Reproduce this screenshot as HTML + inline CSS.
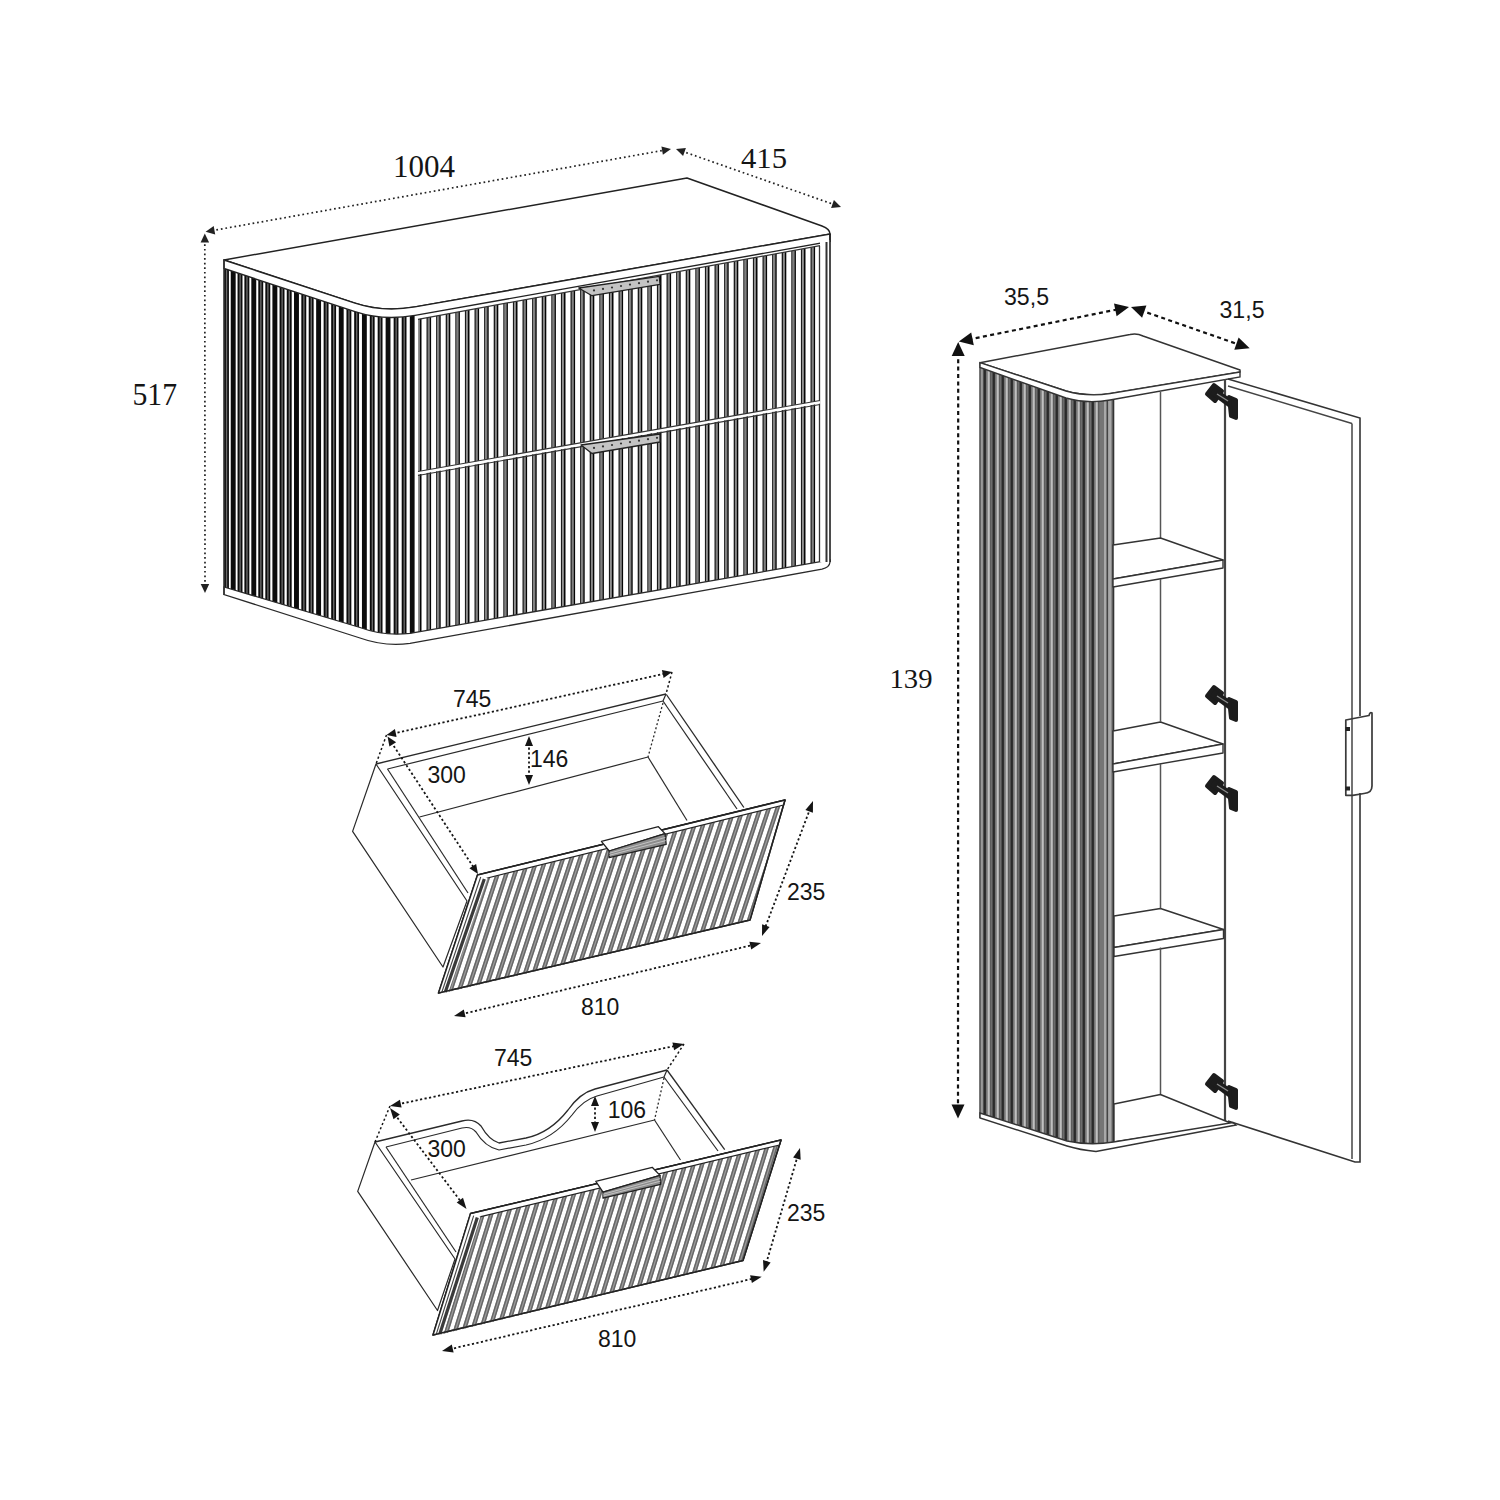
<!DOCTYPE html><html><head><meta charset="utf-8"><style>html,body{margin:0;padding:0;background:#fff}svg{display:block}</style></head><body><svg width="1500" height="1500" viewBox="0 0 1500 1500"><rect width="1500" height="1500" fill="#fff"/>
<clipPath id="cl1"><path d="M224,268.5 L355,311.7 Q383,321 415,315.4 L418,315 L418,634 L410,635 Q384,638 360,629 L224,588 Z"/></clipPath>
<g clip-path="url(#cl1)">
<rect x="224.00" y="250" width="4.92" height="420" fill="#0c0c0c"/>
<rect x="225.87" y="250" width="1.38" height="420" fill="#6a6a6a"/>
<rect x="230.74" y="250" width="4.93" height="420" fill="#0c0c0c"/>
<rect x="237.55" y="250" width="4.93" height="420" fill="#0c0c0c"/>
<rect x="239.42" y="250" width="1.38" height="420" fill="#6a6a6a"/>
<rect x="244.40" y="250" width="4.93" height="420" fill="#0c0c0c"/>
<rect x="246.28" y="250" width="1.38" height="420" fill="#6a6a6a"/>
<rect x="251.32" y="250" width="4.93" height="420" fill="#0c0c0c"/>
<rect x="258.29" y="250" width="4.93" height="420" fill="#0c0c0c"/>
<rect x="260.17" y="250" width="1.38" height="420" fill="#6a6a6a"/>
<rect x="265.33" y="250" width="4.93" height="420" fill="#0c0c0c"/>
<rect x="267.20" y="250" width="1.38" height="420" fill="#6a6a6a"/>
<rect x="272.41" y="250" width="4.93" height="420" fill="#0c0c0c"/>
<rect x="279.56" y="250" width="4.93" height="420" fill="#0c0c0c"/>
<rect x="281.43" y="250" width="1.38" height="420" fill="#6a6a6a"/>
<rect x="286.76" y="250" width="4.92" height="420" fill="#0c0c0c"/>
<rect x="288.63" y="250" width="1.38" height="420" fill="#6a6a6a"/>
<rect x="294.02" y="250" width="4.92" height="420" fill="#0c0c0c"/>
<rect x="301.34" y="250" width="4.92" height="420" fill="#0c0c0c"/>
<rect x="303.21" y="250" width="1.38" height="420" fill="#6a6a6a"/>
<rect x="308.72" y="250" width="4.91" height="420" fill="#0c0c0c"/>
<rect x="310.58" y="250" width="1.38" height="420" fill="#6a6a6a"/>
<rect x="316.15" y="250" width="4.91" height="420" fill="#0c0c0c"/>
<rect x="323.64" y="250" width="4.90" height="420" fill="#0c0c0c"/>
<rect x="325.50" y="250" width="1.37" height="420" fill="#6a6a6a"/>
<rect x="331.19" y="250" width="4.89" height="420" fill="#0c0c0c"/>
<rect x="333.05" y="250" width="1.37" height="420" fill="#6a6a6a"/>
<rect x="338.79" y="250" width="4.89" height="420" fill="#0c0c0c"/>
<rect x="346.46" y="250" width="4.88" height="420" fill="#0c0c0c"/>
<rect x="348.31" y="250" width="1.37" height="420" fill="#6a6a6a"/>
<rect x="354.18" y="250" width="4.87" height="420" fill="#0c0c0c"/>
<rect x="356.03" y="250" width="1.36" height="420" fill="#6a6a6a"/>
<rect x="361.95" y="250" width="4.86" height="420" fill="#0c0c0c"/>
<rect x="369.79" y="250" width="4.85" height="420" fill="#0c0c0c"/>
<rect x="371.63" y="250" width="1.36" height="420" fill="#6a6a6a"/>
<rect x="377.68" y="250" width="4.84" height="420" fill="#0c0c0c"/>
<rect x="379.52" y="250" width="1.36" height="420" fill="#6a6a6a"/>
<rect x="385.63" y="250" width="4.83" height="420" fill="#0c0c0c"/>
<rect x="393.64" y="250" width="4.82" height="420" fill="#0c0c0c"/>
<rect x="395.47" y="250" width="1.35" height="420" fill="#6a6a6a"/>
<rect x="401.70" y="250" width="4.80" height="420" fill="#0c0c0c"/>
<rect x="403.53" y="250" width="1.35" height="420" fill="#6a6a6a"/>
<rect x="409.82" y="250" width="4.79" height="420" fill="#0c0c0c"/>
</g>
<clipPath id="cl2"><polygon points="418,319.3 820,245.7 820,562 418,634"/></clipPath>
<g clip-path="url(#cl2)">
<rect x="416.90" y="230" width="1.4" height="420" fill="#1a1a1a"/>
<rect x="418.30" y="230" width="1.7" height="420" fill="#808080"/>
<rect x="420.00" y="230" width="1.5" height="420" fill="#050505"/>
<rect x="426.50" y="230" width="1.4" height="420" fill="#1a1a1a"/>
<rect x="427.90" y="230" width="1.7" height="420" fill="#808080"/>
<rect x="429.60" y="230" width="1.5" height="420" fill="#050505"/>
<rect x="436.10" y="230" width="1.4" height="420" fill="#1a1a1a"/>
<rect x="437.50" y="230" width="1.7" height="420" fill="#808080"/>
<rect x="439.20" y="230" width="1.5" height="420" fill="#050505"/>
<rect x="445.70" y="230" width="1.4" height="420" fill="#1a1a1a"/>
<rect x="447.10" y="230" width="1.7" height="420" fill="#808080"/>
<rect x="448.80" y="230" width="1.5" height="420" fill="#050505"/>
<rect x="455.30" y="230" width="1.4" height="420" fill="#1a1a1a"/>
<rect x="456.70" y="230" width="1.7" height="420" fill="#808080"/>
<rect x="458.40" y="230" width="1.5" height="420" fill="#050505"/>
<rect x="464.90" y="230" width="1.4" height="420" fill="#1a1a1a"/>
<rect x="466.30" y="230" width="1.7" height="420" fill="#808080"/>
<rect x="468.00" y="230" width="1.5" height="420" fill="#050505"/>
<rect x="474.50" y="230" width="1.4" height="420" fill="#1a1a1a"/>
<rect x="475.90" y="230" width="1.7" height="420" fill="#808080"/>
<rect x="477.60" y="230" width="1.5" height="420" fill="#050505"/>
<rect x="484.10" y="230" width="1.4" height="420" fill="#1a1a1a"/>
<rect x="485.50" y="230" width="1.7" height="420" fill="#808080"/>
<rect x="487.20" y="230" width="1.5" height="420" fill="#050505"/>
<rect x="493.70" y="230" width="1.4" height="420" fill="#1a1a1a"/>
<rect x="495.10" y="230" width="1.7" height="420" fill="#808080"/>
<rect x="496.80" y="230" width="1.5" height="420" fill="#050505"/>
<rect x="503.30" y="230" width="1.4" height="420" fill="#1a1a1a"/>
<rect x="504.70" y="230" width="1.7" height="420" fill="#808080"/>
<rect x="506.40" y="230" width="1.5" height="420" fill="#050505"/>
<rect x="512.90" y="230" width="1.4" height="420" fill="#1a1a1a"/>
<rect x="514.30" y="230" width="1.7" height="420" fill="#808080"/>
<rect x="516.00" y="230" width="1.5" height="420" fill="#050505"/>
<rect x="522.50" y="230" width="1.4" height="420" fill="#1a1a1a"/>
<rect x="523.90" y="230" width="1.7" height="420" fill="#808080"/>
<rect x="525.60" y="230" width="1.5" height="420" fill="#050505"/>
<rect x="532.10" y="230" width="1.4" height="420" fill="#1a1a1a"/>
<rect x="533.50" y="230" width="1.7" height="420" fill="#808080"/>
<rect x="535.20" y="230" width="1.5" height="420" fill="#050505"/>
<rect x="541.70" y="230" width="1.4" height="420" fill="#1a1a1a"/>
<rect x="543.10" y="230" width="1.7" height="420" fill="#808080"/>
<rect x="544.80" y="230" width="1.5" height="420" fill="#050505"/>
<rect x="551.30" y="230" width="1.4" height="420" fill="#1a1a1a"/>
<rect x="552.70" y="230" width="1.7" height="420" fill="#808080"/>
<rect x="554.40" y="230" width="1.5" height="420" fill="#050505"/>
<rect x="560.90" y="230" width="1.4" height="420" fill="#1a1a1a"/>
<rect x="562.30" y="230" width="1.7" height="420" fill="#808080"/>
<rect x="564.00" y="230" width="1.5" height="420" fill="#050505"/>
<rect x="570.50" y="230" width="1.4" height="420" fill="#1a1a1a"/>
<rect x="571.90" y="230" width="1.7" height="420" fill="#808080"/>
<rect x="573.60" y="230" width="1.5" height="420" fill="#050505"/>
<rect x="580.10" y="230" width="1.4" height="420" fill="#1a1a1a"/>
<rect x="581.50" y="230" width="1.7" height="420" fill="#808080"/>
<rect x="583.20" y="230" width="1.5" height="420" fill="#050505"/>
<rect x="589.70" y="230" width="1.4" height="420" fill="#1a1a1a"/>
<rect x="591.10" y="230" width="1.7" height="420" fill="#808080"/>
<rect x="592.80" y="230" width="1.5" height="420" fill="#050505"/>
<rect x="599.30" y="230" width="1.4" height="420" fill="#1a1a1a"/>
<rect x="600.70" y="230" width="1.7" height="420" fill="#808080"/>
<rect x="602.40" y="230" width="1.5" height="420" fill="#050505"/>
<rect x="608.90" y="230" width="1.4" height="420" fill="#1a1a1a"/>
<rect x="610.30" y="230" width="1.7" height="420" fill="#808080"/>
<rect x="612.00" y="230" width="1.5" height="420" fill="#050505"/>
<rect x="618.50" y="230" width="1.4" height="420" fill="#1a1a1a"/>
<rect x="619.90" y="230" width="1.7" height="420" fill="#808080"/>
<rect x="621.60" y="230" width="1.5" height="420" fill="#050505"/>
<rect x="628.10" y="230" width="1.4" height="420" fill="#1a1a1a"/>
<rect x="629.50" y="230" width="1.7" height="420" fill="#808080"/>
<rect x="631.20" y="230" width="1.5" height="420" fill="#050505"/>
<rect x="637.70" y="230" width="1.4" height="420" fill="#1a1a1a"/>
<rect x="639.10" y="230" width="1.7" height="420" fill="#808080"/>
<rect x="640.80" y="230" width="1.5" height="420" fill="#050505"/>
<rect x="647.30" y="230" width="1.4" height="420" fill="#1a1a1a"/>
<rect x="648.70" y="230" width="1.7" height="420" fill="#808080"/>
<rect x="650.40" y="230" width="1.5" height="420" fill="#050505"/>
<rect x="656.90" y="230" width="1.4" height="420" fill="#1a1a1a"/>
<rect x="658.30" y="230" width="1.7" height="420" fill="#808080"/>
<rect x="660.00" y="230" width="1.5" height="420" fill="#050505"/>
<rect x="666.50" y="230" width="1.4" height="420" fill="#1a1a1a"/>
<rect x="667.90" y="230" width="1.7" height="420" fill="#808080"/>
<rect x="669.60" y="230" width="1.5" height="420" fill="#050505"/>
<rect x="676.10" y="230" width="1.4" height="420" fill="#1a1a1a"/>
<rect x="677.50" y="230" width="1.7" height="420" fill="#808080"/>
<rect x="679.20" y="230" width="1.5" height="420" fill="#050505"/>
<rect x="685.70" y="230" width="1.4" height="420" fill="#1a1a1a"/>
<rect x="687.10" y="230" width="1.7" height="420" fill="#808080"/>
<rect x="688.80" y="230" width="1.5" height="420" fill="#050505"/>
<rect x="695.30" y="230" width="1.4" height="420" fill="#1a1a1a"/>
<rect x="696.70" y="230" width="1.7" height="420" fill="#808080"/>
<rect x="698.40" y="230" width="1.5" height="420" fill="#050505"/>
<rect x="704.90" y="230" width="1.4" height="420" fill="#1a1a1a"/>
<rect x="706.30" y="230" width="1.7" height="420" fill="#808080"/>
<rect x="708.00" y="230" width="1.5" height="420" fill="#050505"/>
<rect x="714.50" y="230" width="1.4" height="420" fill="#1a1a1a"/>
<rect x="715.90" y="230" width="1.7" height="420" fill="#808080"/>
<rect x="717.60" y="230" width="1.5" height="420" fill="#050505"/>
<rect x="724.10" y="230" width="1.4" height="420" fill="#1a1a1a"/>
<rect x="725.50" y="230" width="1.7" height="420" fill="#808080"/>
<rect x="727.20" y="230" width="1.5" height="420" fill="#050505"/>
<rect x="733.70" y="230" width="1.4" height="420" fill="#1a1a1a"/>
<rect x="735.10" y="230" width="1.7" height="420" fill="#808080"/>
<rect x="736.80" y="230" width="1.5" height="420" fill="#050505"/>
<rect x="743.30" y="230" width="1.4" height="420" fill="#1a1a1a"/>
<rect x="744.70" y="230" width="1.7" height="420" fill="#808080"/>
<rect x="746.40" y="230" width="1.5" height="420" fill="#050505"/>
<rect x="752.90" y="230" width="1.4" height="420" fill="#1a1a1a"/>
<rect x="754.30" y="230" width="1.7" height="420" fill="#808080"/>
<rect x="756.00" y="230" width="1.5" height="420" fill="#050505"/>
<rect x="762.50" y="230" width="1.4" height="420" fill="#1a1a1a"/>
<rect x="763.90" y="230" width="1.7" height="420" fill="#808080"/>
<rect x="765.60" y="230" width="1.5" height="420" fill="#050505"/>
<rect x="772.10" y="230" width="1.4" height="420" fill="#1a1a1a"/>
<rect x="773.50" y="230" width="1.7" height="420" fill="#808080"/>
<rect x="775.20" y="230" width="1.5" height="420" fill="#050505"/>
<rect x="781.70" y="230" width="1.4" height="420" fill="#1a1a1a"/>
<rect x="783.10" y="230" width="1.7" height="420" fill="#808080"/>
<rect x="784.80" y="230" width="1.5" height="420" fill="#050505"/>
<rect x="791.30" y="230" width="1.4" height="420" fill="#1a1a1a"/>
<rect x="792.70" y="230" width="1.7" height="420" fill="#808080"/>
<rect x="794.40" y="230" width="1.5" height="420" fill="#050505"/>
<rect x="800.90" y="230" width="1.4" height="420" fill="#1a1a1a"/>
<rect x="802.30" y="230" width="1.7" height="420" fill="#808080"/>
<rect x="804.00" y="230" width="1.5" height="420" fill="#050505"/>
<rect x="810.50" y="230" width="1.4" height="420" fill="#1a1a1a"/>
<rect x="811.90" y="230" width="1.7" height="420" fill="#808080"/>
<rect x="813.60" y="230" width="1.5" height="420" fill="#050505"/>
<rect x="820.10" y="230" width="1.4" height="420" fill="#1a1a1a"/>
<rect x="821.50" y="230" width="1.7" height="420" fill="#808080"/>
<rect x="823.20" y="230" width="1.5" height="420" fill="#050505"/>
</g>
<path d="M224,260 L687,178 L822,226 Q830,229 830,234 L415,306.9 Q383,312.5 355,303.2 Z" fill="#fff" stroke="#222" stroke-width="1.5" stroke-linejoin="round"/>
<path d="M224,260 L355,303.2 Q383,312.5 415,306.9 L830,234 L830,241.5 L415,315.4 Q383,321 355,311.7 L224,268.5 Z" fill="#fff" stroke="#222" stroke-width="1.4"/>
<path d="M224,587 L360,627.5 Q384,636.5 410,633.4 L829,560.2 L830,560 L830,562 Q829.5,567.5 822,569.2 L410,643.4 Q385,647 360,638 L224,594.5 Z" fill="#fff" stroke="#2a2a2a" stroke-width="1.3"/>
<line x1="224.0" y1="260.0" x2="224.0" y2="595.0" stroke="#333" stroke-width="1.6" />
<rect x="820" y="240" width="10" height="322" fill="#fff"/>
<line x1="830.0" y1="234.0" x2="830.0" y2="562.0" stroke="#1e1e1e" stroke-width="1.6" />
<line x1="826.5" y1="242.0" x2="826.5" y2="562.0" stroke="#333" stroke-width="2.0" />
<line x1="819.5" y1="246.0" x2="819.5" y2="562.0" stroke="#333" stroke-width="1.3" />
<line x1="418.0" y1="473.0" x2="820.0" y2="402.0" stroke="#fff" stroke-width="3.2" />
<line x1="418.0" y1="471.5" x2="820.0" y2="400.5" stroke="#333" stroke-width="1.1" />
<line x1="418.0" y1="475.5" x2="820.0" y2="404.5" stroke="#333" stroke-width="1.1" />
<line x1="418.0" y1="319.3" x2="820.0" y2="245.7" stroke="#333" stroke-width="1.2" />
<polygon points="578.7,288.0 659.3,276.3 660.0,284.3 592.0,295.7" fill="#c4c4c4" stroke="#222" stroke-width="1.3" stroke-linejoin="round" />
<circle cx="594" cy="290.4" r="1.1" fill="#333"/>
<circle cx="603" cy="288.9" r="1.1" fill="#333"/>
<circle cx="612" cy="287.5" r="1.1" fill="#333"/>
<circle cx="621" cy="286.0" r="1.1" fill="#333"/>
<circle cx="630" cy="284.6" r="1.1" fill="#333"/>
<circle cx="639" cy="283.2" r="1.1" fill="#333"/>
<circle cx="648" cy="281.7" r="1.1" fill="#333"/>
<circle cx="657" cy="280.3" r="1.1" fill="#333"/>
<polygon points="581.0,445.0 660.0,434.0 660.0,442.0 592.0,453.5" fill="#c4c4c4" stroke="#222" stroke-width="1.3" stroke-linejoin="round" />
<circle cx="594" cy="447.9" r="1.1" fill="#333"/>
<circle cx="603" cy="446.4" r="1.1" fill="#333"/>
<circle cx="612" cy="445.0" r="1.1" fill="#333"/>
<circle cx="621" cy="443.5" r="1.1" fill="#333"/>
<circle cx="630" cy="442.1" r="1.1" fill="#333"/>
<circle cx="639" cy="440.7" r="1.1" fill="#333"/>
<circle cx="648" cy="439.2" r="1.1" fill="#333"/>
<circle cx="657" cy="437.8" r="1.1" fill="#333"/>
<line x1="211.8" y1="230.7" x2="664.8" y2="150.1" stroke="#222" stroke-width="1.7" stroke-dasharray="1.7 2.9"/>
<polygon points="205.6,231.8 213.7,226.0 215.2,234.4" fill="#222"/>
<polygon points="671.0,149.0 662.9,154.8 661.4,146.4" fill="#222"/>
<line x1="681.9" y1="151.1" x2="835.1" y2="204.9" stroke="#222" stroke-width="1.7" stroke-dasharray="1.7 2.9"/>
<polygon points="676.0,149.0 685.9,148.0 683.1,156.0" fill="#222"/>
<polygon points="841.0,207.0 831.1,208.0 833.9,200.0" fill="#222"/>
<line x1="204.8" y1="239.7" x2="205.0" y2="586.7" stroke="#222" stroke-width="1.7" stroke-dasharray="1.7 2.9"/>
<polygon points="204.8,233.4 209.1,242.4 200.6,242.4" fill="#222"/>
<polygon points="205.0,593.0 200.7,584.0 209.2,584.0" fill="#222"/>
<text x="393" y="177" font-family='"Liberation Serif", serif' font-size="32" fill="#151515" text-anchor="start" textLength="62" lengthAdjust="spacingAndGlyphs">1004</text>
<text x="741" y="168" font-family='"Liberation Serif", serif' font-size="30" fill="#151515" text-anchor="start" textLength="46" lengthAdjust="spacingAndGlyphs">415</text>
<text x="132.5" y="404.8" font-family='"Liberation Serif", serif' font-size="31" fill="#151515" text-anchor="start" textLength="44.5" lengthAdjust="spacingAndGlyphs">517</text>
<!--D1-->
<polygon points="376.0,764.0 352.6,831.4 443.0,967.0 467.0,901.0" fill="#fff" stroke="#2a2a2a" stroke-width="1.2" stroke-linejoin="round" />
<line x1="387.5" y1="769.0" x2="468.0" y2="893.0" stroke="#2a2a2a" stroke-width="1.2" />
<line x1="376.0" y1="764.0" x2="666.0" y2="694.0" stroke="#2a2a2a" stroke-width="1.3" />
<line x1="387.5" y1="769.0" x2="663.0" y2="701.0" stroke="#2a2a2a" stroke-width="1.2" />
<line x1="666.4" y1="694.5" x2="743.9" y2="807.5" stroke="#2a2a2a" stroke-width="1.3" />
<line x1="663.0" y1="701.0" x2="737.0" y2="809.0" stroke="#2a2a2a" stroke-width="1.2" />
<line x1="666.0" y1="694.0" x2="663.0" y2="701.0" stroke="#2a2a2a" stroke-width="1.2" />
<line x1="663.0" y1="703.0" x2="648.0" y2="757.0" stroke="#2a2a2a" stroke-width="1.3" stroke-dasharray="2 2.2"/>
<line x1="648.0" y1="757.0" x2="419.5" y2="817.0" stroke="#2a2a2a" stroke-width="1.2" />
<line x1="648.0" y1="757.0" x2="687.0" y2="820.5" stroke="#2a2a2a" stroke-width="1.2" />
<polygon points="477.5,875.0 785.0,800.0 750.0,920.0 438.5,993.0" fill="#fff" stroke="#222" stroke-width="1.5" stroke-linejoin="round" />
<clipPath id="d1"><polygon points="480.5,880.0 784.0,805.0 750.0,920.0 443.5,993.0"/></clipPath>
<g clip-path="url(#d1)">
<line x1="396.50" y1="998" x2="463.59" y2="795" stroke="#9c9c9c" stroke-width="4.20"/>
<line x1="395.10" y1="998" x2="462.19" y2="795" stroke="#666666" stroke-width="1.4"/>
<line x1="397.90" y1="998" x2="464.99" y2="795" stroke="#666666" stroke-width="1.4"/>
<line x1="405.10" y1="998" x2="472.19" y2="795" stroke="#9c9c9c" stroke-width="4.20"/>
<line x1="403.70" y1="998" x2="470.79" y2="795" stroke="#666666" stroke-width="1.4"/>
<line x1="406.50" y1="998" x2="473.59" y2="795" stroke="#666666" stroke-width="1.4"/>
<line x1="413.70" y1="998" x2="480.79" y2="795" stroke="#9c9c9c" stroke-width="4.20"/>
<line x1="412.30" y1="998" x2="479.39" y2="795" stroke="#666666" stroke-width="1.4"/>
<line x1="415.10" y1="998" x2="482.19" y2="795" stroke="#666666" stroke-width="1.4"/>
<line x1="422.30" y1="998" x2="489.39" y2="795" stroke="#9c9c9c" stroke-width="4.20"/>
<line x1="420.90" y1="998" x2="487.99" y2="795" stroke="#666666" stroke-width="1.4"/>
<line x1="423.70" y1="998" x2="490.79" y2="795" stroke="#666666" stroke-width="1.4"/>
<line x1="430.90" y1="998" x2="497.99" y2="795" stroke="#9c9c9c" stroke-width="4.20"/>
<line x1="429.50" y1="998" x2="496.59" y2="795" stroke="#666666" stroke-width="1.4"/>
<line x1="432.30" y1="998" x2="499.39" y2="795" stroke="#666666" stroke-width="1.4"/>
<line x1="439.50" y1="998" x2="506.59" y2="795" stroke="#9c9c9c" stroke-width="4.20"/>
<line x1="438.10" y1="998" x2="505.19" y2="795" stroke="#666666" stroke-width="1.4"/>
<line x1="440.90" y1="998" x2="507.99" y2="795" stroke="#666666" stroke-width="1.4"/>
<line x1="448.10" y1="998" x2="515.19" y2="795" stroke="#9c9c9c" stroke-width="4.20"/>
<line x1="446.70" y1="998" x2="513.79" y2="795" stroke="#666666" stroke-width="1.4"/>
<line x1="449.50" y1="998" x2="516.59" y2="795" stroke="#666666" stroke-width="1.4"/>
<line x1="456.70" y1="998" x2="523.79" y2="795" stroke="#9c9c9c" stroke-width="4.20"/>
<line x1="455.30" y1="998" x2="522.39" y2="795" stroke="#666666" stroke-width="1.4"/>
<line x1="458.10" y1="998" x2="525.19" y2="795" stroke="#666666" stroke-width="1.4"/>
<line x1="465.30" y1="998" x2="532.39" y2="795" stroke="#9c9c9c" stroke-width="4.20"/>
<line x1="463.90" y1="998" x2="530.99" y2="795" stroke="#666666" stroke-width="1.4"/>
<line x1="466.70" y1="998" x2="533.79" y2="795" stroke="#666666" stroke-width="1.4"/>
<line x1="473.90" y1="998" x2="540.99" y2="795" stroke="#9c9c9c" stroke-width="4.20"/>
<line x1="472.50" y1="998" x2="539.59" y2="795" stroke="#666666" stroke-width="1.4"/>
<line x1="475.30" y1="998" x2="542.39" y2="795" stroke="#666666" stroke-width="1.4"/>
<line x1="482.50" y1="998" x2="549.59" y2="795" stroke="#9c9c9c" stroke-width="4.20"/>
<line x1="481.10" y1="998" x2="548.19" y2="795" stroke="#666666" stroke-width="1.4"/>
<line x1="483.90" y1="998" x2="550.99" y2="795" stroke="#666666" stroke-width="1.4"/>
<line x1="491.10" y1="998" x2="558.19" y2="795" stroke="#9c9c9c" stroke-width="4.20"/>
<line x1="489.70" y1="998" x2="556.79" y2="795" stroke="#666666" stroke-width="1.4"/>
<line x1="492.50" y1="998" x2="559.59" y2="795" stroke="#666666" stroke-width="1.4"/>
<line x1="499.70" y1="998" x2="566.79" y2="795" stroke="#9c9c9c" stroke-width="4.20"/>
<line x1="498.30" y1="998" x2="565.39" y2="795" stroke="#666666" stroke-width="1.4"/>
<line x1="501.10" y1="998" x2="568.19" y2="795" stroke="#666666" stroke-width="1.4"/>
<line x1="508.30" y1="998" x2="575.39" y2="795" stroke="#9c9c9c" stroke-width="4.20"/>
<line x1="506.90" y1="998" x2="573.99" y2="795" stroke="#666666" stroke-width="1.4"/>
<line x1="509.70" y1="998" x2="576.79" y2="795" stroke="#666666" stroke-width="1.4"/>
<line x1="516.90" y1="998" x2="583.99" y2="795" stroke="#9c9c9c" stroke-width="4.20"/>
<line x1="515.50" y1="998" x2="582.59" y2="795" stroke="#666666" stroke-width="1.4"/>
<line x1="518.30" y1="998" x2="585.39" y2="795" stroke="#666666" stroke-width="1.4"/>
<line x1="525.50" y1="998" x2="592.59" y2="795" stroke="#9c9c9c" stroke-width="4.20"/>
<line x1="524.10" y1="998" x2="591.19" y2="795" stroke="#666666" stroke-width="1.4"/>
<line x1="526.90" y1="998" x2="593.99" y2="795" stroke="#666666" stroke-width="1.4"/>
<line x1="534.10" y1="998" x2="601.19" y2="795" stroke="#9c9c9c" stroke-width="4.20"/>
<line x1="532.70" y1="998" x2="599.79" y2="795" stroke="#666666" stroke-width="1.4"/>
<line x1="535.50" y1="998" x2="602.59" y2="795" stroke="#666666" stroke-width="1.4"/>
<line x1="542.70" y1="998" x2="609.79" y2="795" stroke="#9c9c9c" stroke-width="4.20"/>
<line x1="541.30" y1="998" x2="608.39" y2="795" stroke="#666666" stroke-width="1.4"/>
<line x1="544.10" y1="998" x2="611.19" y2="795" stroke="#666666" stroke-width="1.4"/>
<line x1="551.30" y1="998" x2="618.39" y2="795" stroke="#9c9c9c" stroke-width="4.20"/>
<line x1="549.90" y1="998" x2="616.99" y2="795" stroke="#666666" stroke-width="1.4"/>
<line x1="552.70" y1="998" x2="619.79" y2="795" stroke="#666666" stroke-width="1.4"/>
<line x1="559.90" y1="998" x2="626.99" y2="795" stroke="#9c9c9c" stroke-width="4.20"/>
<line x1="558.50" y1="998" x2="625.59" y2="795" stroke="#666666" stroke-width="1.4"/>
<line x1="561.30" y1="998" x2="628.39" y2="795" stroke="#666666" stroke-width="1.4"/>
<line x1="568.50" y1="998" x2="635.59" y2="795" stroke="#9c9c9c" stroke-width="4.20"/>
<line x1="567.10" y1="998" x2="634.19" y2="795" stroke="#666666" stroke-width="1.4"/>
<line x1="569.90" y1="998" x2="636.99" y2="795" stroke="#666666" stroke-width="1.4"/>
<line x1="577.10" y1="998" x2="644.19" y2="795" stroke="#9c9c9c" stroke-width="4.20"/>
<line x1="575.70" y1="998" x2="642.79" y2="795" stroke="#666666" stroke-width="1.4"/>
<line x1="578.50" y1="998" x2="645.59" y2="795" stroke="#666666" stroke-width="1.4"/>
<line x1="585.70" y1="998" x2="652.79" y2="795" stroke="#9c9c9c" stroke-width="4.20"/>
<line x1="584.30" y1="998" x2="651.39" y2="795" stroke="#666666" stroke-width="1.4"/>
<line x1="587.10" y1="998" x2="654.19" y2="795" stroke="#666666" stroke-width="1.4"/>
<line x1="594.30" y1="998" x2="661.39" y2="795" stroke="#9c9c9c" stroke-width="4.20"/>
<line x1="592.90" y1="998" x2="659.99" y2="795" stroke="#666666" stroke-width="1.4"/>
<line x1="595.70" y1="998" x2="662.79" y2="795" stroke="#666666" stroke-width="1.4"/>
<line x1="602.90" y1="998" x2="669.99" y2="795" stroke="#9c9c9c" stroke-width="4.20"/>
<line x1="601.50" y1="998" x2="668.59" y2="795" stroke="#666666" stroke-width="1.4"/>
<line x1="604.30" y1="998" x2="671.39" y2="795" stroke="#666666" stroke-width="1.4"/>
<line x1="611.50" y1="998" x2="678.59" y2="795" stroke="#9c9c9c" stroke-width="4.20"/>
<line x1="610.10" y1="998" x2="677.19" y2="795" stroke="#666666" stroke-width="1.4"/>
<line x1="612.90" y1="998" x2="679.99" y2="795" stroke="#666666" stroke-width="1.4"/>
<line x1="620.10" y1="998" x2="687.19" y2="795" stroke="#9c9c9c" stroke-width="4.20"/>
<line x1="618.70" y1="998" x2="685.79" y2="795" stroke="#666666" stroke-width="1.4"/>
<line x1="621.50" y1="998" x2="688.59" y2="795" stroke="#666666" stroke-width="1.4"/>
<line x1="628.70" y1="998" x2="695.79" y2="795" stroke="#9c9c9c" stroke-width="4.20"/>
<line x1="627.30" y1="998" x2="694.39" y2="795" stroke="#666666" stroke-width="1.4"/>
<line x1="630.10" y1="998" x2="697.19" y2="795" stroke="#666666" stroke-width="1.4"/>
<line x1="637.30" y1="998" x2="704.39" y2="795" stroke="#9c9c9c" stroke-width="4.20"/>
<line x1="635.90" y1="998" x2="702.99" y2="795" stroke="#666666" stroke-width="1.4"/>
<line x1="638.70" y1="998" x2="705.79" y2="795" stroke="#666666" stroke-width="1.4"/>
<line x1="645.90" y1="998" x2="712.99" y2="795" stroke="#9c9c9c" stroke-width="4.20"/>
<line x1="644.50" y1="998" x2="711.59" y2="795" stroke="#666666" stroke-width="1.4"/>
<line x1="647.30" y1="998" x2="714.39" y2="795" stroke="#666666" stroke-width="1.4"/>
<line x1="654.50" y1="998" x2="721.59" y2="795" stroke="#9c9c9c" stroke-width="4.20"/>
<line x1="653.10" y1="998" x2="720.19" y2="795" stroke="#666666" stroke-width="1.4"/>
<line x1="655.90" y1="998" x2="722.99" y2="795" stroke="#666666" stroke-width="1.4"/>
<line x1="663.10" y1="998" x2="730.19" y2="795" stroke="#9c9c9c" stroke-width="4.20"/>
<line x1="661.70" y1="998" x2="728.79" y2="795" stroke="#666666" stroke-width="1.4"/>
<line x1="664.50" y1="998" x2="731.59" y2="795" stroke="#666666" stroke-width="1.4"/>
<line x1="671.70" y1="998" x2="738.79" y2="795" stroke="#9c9c9c" stroke-width="4.20"/>
<line x1="670.30" y1="998" x2="737.39" y2="795" stroke="#666666" stroke-width="1.4"/>
<line x1="673.10" y1="998" x2="740.19" y2="795" stroke="#666666" stroke-width="1.4"/>
<line x1="680.30" y1="998" x2="747.39" y2="795" stroke="#9c9c9c" stroke-width="4.20"/>
<line x1="678.90" y1="998" x2="745.99" y2="795" stroke="#666666" stroke-width="1.4"/>
<line x1="681.70" y1="998" x2="748.79" y2="795" stroke="#666666" stroke-width="1.4"/>
<line x1="688.90" y1="998" x2="755.99" y2="795" stroke="#9c9c9c" stroke-width="4.20"/>
<line x1="687.50" y1="998" x2="754.59" y2="795" stroke="#666666" stroke-width="1.4"/>
<line x1="690.30" y1="998" x2="757.39" y2="795" stroke="#666666" stroke-width="1.4"/>
<line x1="697.50" y1="998" x2="764.59" y2="795" stroke="#9c9c9c" stroke-width="4.20"/>
<line x1="696.10" y1="998" x2="763.19" y2="795" stroke="#666666" stroke-width="1.4"/>
<line x1="698.90" y1="998" x2="765.99" y2="795" stroke="#666666" stroke-width="1.4"/>
<line x1="706.10" y1="998" x2="773.19" y2="795" stroke="#9c9c9c" stroke-width="4.20"/>
<line x1="704.70" y1="998" x2="771.79" y2="795" stroke="#666666" stroke-width="1.4"/>
<line x1="707.50" y1="998" x2="774.59" y2="795" stroke="#666666" stroke-width="1.4"/>
<line x1="714.70" y1="998" x2="781.79" y2="795" stroke="#9c9c9c" stroke-width="4.20"/>
<line x1="713.30" y1="998" x2="780.39" y2="795" stroke="#666666" stroke-width="1.4"/>
<line x1="716.10" y1="998" x2="783.19" y2="795" stroke="#666666" stroke-width="1.4"/>
<line x1="723.30" y1="998" x2="790.39" y2="795" stroke="#9c9c9c" stroke-width="4.20"/>
<line x1="721.90" y1="998" x2="788.99" y2="795" stroke="#666666" stroke-width="1.4"/>
<line x1="724.70" y1="998" x2="791.79" y2="795" stroke="#666666" stroke-width="1.4"/>
<line x1="731.90" y1="998" x2="798.99" y2="795" stroke="#9c9c9c" stroke-width="4.20"/>
<line x1="730.50" y1="998" x2="797.59" y2="795" stroke="#666666" stroke-width="1.4"/>
<line x1="733.30" y1="998" x2="800.39" y2="795" stroke="#666666" stroke-width="1.4"/>
<line x1="740.50" y1="998" x2="807.59" y2="795" stroke="#9c9c9c" stroke-width="4.20"/>
<line x1="739.10" y1="998" x2="806.19" y2="795" stroke="#666666" stroke-width="1.4"/>
<line x1="741.90" y1="998" x2="808.99" y2="795" stroke="#666666" stroke-width="1.4"/>
<line x1="749.10" y1="998" x2="816.19" y2="795" stroke="#9c9c9c" stroke-width="4.20"/>
<line x1="747.70" y1="998" x2="814.79" y2="795" stroke="#666666" stroke-width="1.4"/>
<line x1="750.50" y1="998" x2="817.59" y2="795" stroke="#666666" stroke-width="1.4"/>
<line x1="757.70" y1="998" x2="824.79" y2="795" stroke="#9c9c9c" stroke-width="4.20"/>
<line x1="756.30" y1="998" x2="823.39" y2="795" stroke="#666666" stroke-width="1.4"/>
<line x1="759.10" y1="998" x2="826.19" y2="795" stroke="#666666" stroke-width="1.4"/>
</g>
<polygon points="477.5,875.0 785.0,800.0 783.5,805.0 479.5,880.0" fill="#fff" stroke="#222" stroke-width="1.2" stroke-linejoin="round" />
<polygon points="477.5,875.0 487.5,878.0 448.5,992.0 438.5,993.0" fill="#fff"/>
<line x1="480.7" y1="877.0" x2="441.7" y2="992.5" stroke="#444" stroke-width="1.1" />
<line x1="484.3" y1="879.0" x2="445.3" y2="992.0" stroke="#3a3a3a" stroke-width="3.2" />
<polygon points="477.5,875.0 785.0,800.0 750.0,920.0 438.5,993.0" fill="none" stroke="#222" stroke-width="1.5" stroke-linejoin="round" />
<polygon points="601.4,841.4 658.4,826.7 665.0,833.6 609.2,851.0" fill="#fff" stroke="#222" stroke-width="1.3" stroke-linejoin="round" />
<polygon points="609.2,851.0 665.0,833.6 666.2,844.4 609.2,857.6" fill="#8c8c8c" stroke="#222" stroke-width="1.3" stroke-linejoin="round" />
<line x1="609.2" y1="853.3" x2="665.4" y2="837.4" stroke="#d0d0d0" stroke-width="0.8" />
<line x1="609.2" y1="855.3" x2="665.8" y2="840.6" stroke="#d0d0d0" stroke-width="0.8" />
<line x1="393.0" y1="733.6" x2="665.5" y2="673.4" stroke="#151515" stroke-width="1.8" stroke-dasharray="2.2 2.4"/>
<polygon points="386.5,735.0 394.9,729.0 396.6,736.9" fill="#151515"/>
<polygon points="672.0,672.0 663.6,678.0 661.9,670.1" fill="#151515"/>
<line x1="386.5" y1="735.0" x2="376.0" y2="764.0" stroke="#151515" stroke-width="1.5" stroke-dasharray="2.2 2.4"/>
<line x1="672.0" y1="672.0" x2="666.0" y2="694.0" stroke="#151515" stroke-width="1.5" stroke-dasharray="2.2 2.4"/>
<line x1="391.2" y1="742.1" x2="474.3" y2="868.4" stroke="#151515" stroke-width="1.8" stroke-dasharray="2.2 2.4"/>
<polygon points="387.5,736.5 396.1,742.2 389.4,746.6" fill="#151515"/>
<polygon points="478.0,874.0 469.4,868.3 476.1,863.9" fill="#151515"/>
<line x1="529.0" y1="743.0" x2="529.0" y2="778.0" stroke="#151515" stroke-width="1.8" stroke-dasharray="2.2 2.4"/>
<polygon points="529.0,736.0 533.0,746.0 525.0,746.0" fill="#151515"/>
<polygon points="529.0,785.0 525.0,775.0 533.0,775.0" fill="#151515"/>
<line x1="810.3" y1="808.2" x2="764.7" y2="928.8" stroke="#151515" stroke-width="1.8" stroke-dasharray="2.2 2.4"/>
<polygon points="813.0,801.0 812.9,812.7 805.4,809.9" fill="#151515"/>
<polygon points="762.0,936.0 762.1,924.3 769.6,927.1" fill="#151515"/>
<line x1="461.5" y1="1014.2" x2="753.5" y2="944.8" stroke="#151515" stroke-width="1.8" stroke-dasharray="2.2 2.4"/>
<polygon points="454.0,1016.0 463.8,1009.6 465.6,1017.3" fill="#151515"/>
<polygon points="761.0,943.0 751.2,949.4 749.4,941.7" fill="#151515"/>
<polygon points="375.0,1142.0 357.7,1191.4 437.5,1310.5 455.0,1259.0" fill="#fff" stroke="#2a2a2a" stroke-width="1.2" stroke-linejoin="round" />
<line x1="386.0" y1="1147.0" x2="456.0" y2="1252.0" stroke="#2a2a2a" stroke-width="1.2" />
<path d="M375,1142 L462,1121 Q474,1118 481,1126 Q489,1140 499,1143 L526,1138 Q550,1133 568,1110 Q580,1093 595,1089 L667,1070" fill="none" stroke="#2a2a2a" stroke-width="1.3" stroke-linejoin="round" />
<path d="M386,1147 L462,1128 Q471,1126 476,1132 Q485,1147 499,1150 L526,1145 Q553,1139 572,1115 Q583,1100 597,1096 L664,1077" fill="none" stroke="#2a2a2a" stroke-width="1.2" stroke-linejoin="round" />
<line x1="667.0" y1="1070.0" x2="724.7" y2="1149.6" stroke="#2a2a2a" stroke-width="1.3" />
<line x1="664.0" y1="1077.0" x2="718.0" y2="1151.0" stroke="#2a2a2a" stroke-width="1.2" />
<line x1="667.0" y1="1070.0" x2="664.0" y2="1077.0" stroke="#2a2a2a" stroke-width="1.2" />
<line x1="664.0" y1="1078.0" x2="654.5" y2="1120.0" stroke="#2a2a2a" stroke-width="1.3" stroke-dasharray="2 2.2"/>
<line x1="654.5" y1="1120.0" x2="411.0" y2="1180.0" stroke="#2a2a2a" stroke-width="1.2" />
<line x1="654.5" y1="1120.0" x2="680.5" y2="1160.0" stroke="#2a2a2a" stroke-width="1.2" />
<polygon points="470.5,1213.6 781.0,1140.0 743.0,1260.5 433.0,1335.0" fill="#fff" stroke="#222" stroke-width="1.5" stroke-linejoin="round" />
<clipPath id="d2"><polygon points="473.5,1218.6 780.0,1145.0 743.0,1260.5 438.0,1335.0"/></clipPath>
<g clip-path="url(#d2)">
<line x1="392.90" y1="1340" x2="456.22" y2="1135" stroke="#9c9c9c" stroke-width="4.20"/>
<line x1="391.50" y1="1340" x2="454.82" y2="1135" stroke="#666666" stroke-width="1.4"/>
<line x1="394.30" y1="1340" x2="457.62" y2="1135" stroke="#666666" stroke-width="1.4"/>
<line x1="401.40" y1="1340" x2="464.72" y2="1135" stroke="#9c9c9c" stroke-width="4.20"/>
<line x1="400.00" y1="1340" x2="463.32" y2="1135" stroke="#666666" stroke-width="1.4"/>
<line x1="402.80" y1="1340" x2="466.12" y2="1135" stroke="#666666" stroke-width="1.4"/>
<line x1="409.90" y1="1340" x2="473.22" y2="1135" stroke="#9c9c9c" stroke-width="4.20"/>
<line x1="408.50" y1="1340" x2="471.82" y2="1135" stroke="#666666" stroke-width="1.4"/>
<line x1="411.30" y1="1340" x2="474.62" y2="1135" stroke="#666666" stroke-width="1.4"/>
<line x1="418.40" y1="1340" x2="481.72" y2="1135" stroke="#9c9c9c" stroke-width="4.20"/>
<line x1="417.00" y1="1340" x2="480.32" y2="1135" stroke="#666666" stroke-width="1.4"/>
<line x1="419.80" y1="1340" x2="483.12" y2="1135" stroke="#666666" stroke-width="1.4"/>
<line x1="426.90" y1="1340" x2="490.22" y2="1135" stroke="#9c9c9c" stroke-width="4.20"/>
<line x1="425.50" y1="1340" x2="488.82" y2="1135" stroke="#666666" stroke-width="1.4"/>
<line x1="428.30" y1="1340" x2="491.62" y2="1135" stroke="#666666" stroke-width="1.4"/>
<line x1="435.40" y1="1340" x2="498.72" y2="1135" stroke="#9c9c9c" stroke-width="4.20"/>
<line x1="434.00" y1="1340" x2="497.32" y2="1135" stroke="#666666" stroke-width="1.4"/>
<line x1="436.80" y1="1340" x2="500.12" y2="1135" stroke="#666666" stroke-width="1.4"/>
<line x1="443.90" y1="1340" x2="507.22" y2="1135" stroke="#9c9c9c" stroke-width="4.20"/>
<line x1="442.50" y1="1340" x2="505.82" y2="1135" stroke="#666666" stroke-width="1.4"/>
<line x1="445.30" y1="1340" x2="508.62" y2="1135" stroke="#666666" stroke-width="1.4"/>
<line x1="452.40" y1="1340" x2="515.72" y2="1135" stroke="#9c9c9c" stroke-width="4.20"/>
<line x1="451.00" y1="1340" x2="514.32" y2="1135" stroke="#666666" stroke-width="1.4"/>
<line x1="453.80" y1="1340" x2="517.12" y2="1135" stroke="#666666" stroke-width="1.4"/>
<line x1="460.90" y1="1340" x2="524.22" y2="1135" stroke="#9c9c9c" stroke-width="4.20"/>
<line x1="459.50" y1="1340" x2="522.82" y2="1135" stroke="#666666" stroke-width="1.4"/>
<line x1="462.30" y1="1340" x2="525.62" y2="1135" stroke="#666666" stroke-width="1.4"/>
<line x1="469.40" y1="1340" x2="532.72" y2="1135" stroke="#9c9c9c" stroke-width="4.20"/>
<line x1="468.00" y1="1340" x2="531.32" y2="1135" stroke="#666666" stroke-width="1.4"/>
<line x1="470.80" y1="1340" x2="534.12" y2="1135" stroke="#666666" stroke-width="1.4"/>
<line x1="477.90" y1="1340" x2="541.22" y2="1135" stroke="#9c9c9c" stroke-width="4.20"/>
<line x1="476.50" y1="1340" x2="539.82" y2="1135" stroke="#666666" stroke-width="1.4"/>
<line x1="479.30" y1="1340" x2="542.62" y2="1135" stroke="#666666" stroke-width="1.4"/>
<line x1="486.40" y1="1340" x2="549.72" y2="1135" stroke="#9c9c9c" stroke-width="4.20"/>
<line x1="485.00" y1="1340" x2="548.32" y2="1135" stroke="#666666" stroke-width="1.4"/>
<line x1="487.80" y1="1340" x2="551.12" y2="1135" stroke="#666666" stroke-width="1.4"/>
<line x1="494.90" y1="1340" x2="558.22" y2="1135" stroke="#9c9c9c" stroke-width="4.20"/>
<line x1="493.50" y1="1340" x2="556.82" y2="1135" stroke="#666666" stroke-width="1.4"/>
<line x1="496.30" y1="1340" x2="559.62" y2="1135" stroke="#666666" stroke-width="1.4"/>
<line x1="503.40" y1="1340" x2="566.72" y2="1135" stroke="#9c9c9c" stroke-width="4.20"/>
<line x1="502.00" y1="1340" x2="565.32" y2="1135" stroke="#666666" stroke-width="1.4"/>
<line x1="504.80" y1="1340" x2="568.12" y2="1135" stroke="#666666" stroke-width="1.4"/>
<line x1="511.90" y1="1340" x2="575.22" y2="1135" stroke="#9c9c9c" stroke-width="4.20"/>
<line x1="510.50" y1="1340" x2="573.82" y2="1135" stroke="#666666" stroke-width="1.4"/>
<line x1="513.30" y1="1340" x2="576.62" y2="1135" stroke="#666666" stroke-width="1.4"/>
<line x1="520.40" y1="1340" x2="583.72" y2="1135" stroke="#9c9c9c" stroke-width="4.20"/>
<line x1="519.00" y1="1340" x2="582.32" y2="1135" stroke="#666666" stroke-width="1.4"/>
<line x1="521.80" y1="1340" x2="585.12" y2="1135" stroke="#666666" stroke-width="1.4"/>
<line x1="528.90" y1="1340" x2="592.22" y2="1135" stroke="#9c9c9c" stroke-width="4.20"/>
<line x1="527.50" y1="1340" x2="590.82" y2="1135" stroke="#666666" stroke-width="1.4"/>
<line x1="530.30" y1="1340" x2="593.62" y2="1135" stroke="#666666" stroke-width="1.4"/>
<line x1="537.40" y1="1340" x2="600.72" y2="1135" stroke="#9c9c9c" stroke-width="4.20"/>
<line x1="536.00" y1="1340" x2="599.32" y2="1135" stroke="#666666" stroke-width="1.4"/>
<line x1="538.80" y1="1340" x2="602.12" y2="1135" stroke="#666666" stroke-width="1.4"/>
<line x1="545.90" y1="1340" x2="609.22" y2="1135" stroke="#9c9c9c" stroke-width="4.20"/>
<line x1="544.50" y1="1340" x2="607.82" y2="1135" stroke="#666666" stroke-width="1.4"/>
<line x1="547.30" y1="1340" x2="610.62" y2="1135" stroke="#666666" stroke-width="1.4"/>
<line x1="554.40" y1="1340" x2="617.72" y2="1135" stroke="#9c9c9c" stroke-width="4.20"/>
<line x1="553.00" y1="1340" x2="616.32" y2="1135" stroke="#666666" stroke-width="1.4"/>
<line x1="555.80" y1="1340" x2="619.12" y2="1135" stroke="#666666" stroke-width="1.4"/>
<line x1="562.90" y1="1340" x2="626.22" y2="1135" stroke="#9c9c9c" stroke-width="4.20"/>
<line x1="561.50" y1="1340" x2="624.82" y2="1135" stroke="#666666" stroke-width="1.4"/>
<line x1="564.30" y1="1340" x2="627.62" y2="1135" stroke="#666666" stroke-width="1.4"/>
<line x1="571.40" y1="1340" x2="634.72" y2="1135" stroke="#9c9c9c" stroke-width="4.20"/>
<line x1="570.00" y1="1340" x2="633.32" y2="1135" stroke="#666666" stroke-width="1.4"/>
<line x1="572.80" y1="1340" x2="636.12" y2="1135" stroke="#666666" stroke-width="1.4"/>
<line x1="579.90" y1="1340" x2="643.22" y2="1135" stroke="#9c9c9c" stroke-width="4.20"/>
<line x1="578.50" y1="1340" x2="641.82" y2="1135" stroke="#666666" stroke-width="1.4"/>
<line x1="581.30" y1="1340" x2="644.62" y2="1135" stroke="#666666" stroke-width="1.4"/>
<line x1="588.40" y1="1340" x2="651.72" y2="1135" stroke="#9c9c9c" stroke-width="4.20"/>
<line x1="587.00" y1="1340" x2="650.32" y2="1135" stroke="#666666" stroke-width="1.4"/>
<line x1="589.80" y1="1340" x2="653.12" y2="1135" stroke="#666666" stroke-width="1.4"/>
<line x1="596.90" y1="1340" x2="660.22" y2="1135" stroke="#9c9c9c" stroke-width="4.20"/>
<line x1="595.50" y1="1340" x2="658.82" y2="1135" stroke="#666666" stroke-width="1.4"/>
<line x1="598.30" y1="1340" x2="661.62" y2="1135" stroke="#666666" stroke-width="1.4"/>
<line x1="605.40" y1="1340" x2="668.72" y2="1135" stroke="#9c9c9c" stroke-width="4.20"/>
<line x1="604.00" y1="1340" x2="667.32" y2="1135" stroke="#666666" stroke-width="1.4"/>
<line x1="606.80" y1="1340" x2="670.12" y2="1135" stroke="#666666" stroke-width="1.4"/>
<line x1="613.90" y1="1340" x2="677.22" y2="1135" stroke="#9c9c9c" stroke-width="4.20"/>
<line x1="612.50" y1="1340" x2="675.82" y2="1135" stroke="#666666" stroke-width="1.4"/>
<line x1="615.30" y1="1340" x2="678.62" y2="1135" stroke="#666666" stroke-width="1.4"/>
<line x1="622.40" y1="1340" x2="685.72" y2="1135" stroke="#9c9c9c" stroke-width="4.20"/>
<line x1="621.00" y1="1340" x2="684.32" y2="1135" stroke="#666666" stroke-width="1.4"/>
<line x1="623.80" y1="1340" x2="687.12" y2="1135" stroke="#666666" stroke-width="1.4"/>
<line x1="630.90" y1="1340" x2="694.22" y2="1135" stroke="#9c9c9c" stroke-width="4.20"/>
<line x1="629.50" y1="1340" x2="692.82" y2="1135" stroke="#666666" stroke-width="1.4"/>
<line x1="632.30" y1="1340" x2="695.62" y2="1135" stroke="#666666" stroke-width="1.4"/>
<line x1="639.40" y1="1340" x2="702.72" y2="1135" stroke="#9c9c9c" stroke-width="4.20"/>
<line x1="638.00" y1="1340" x2="701.32" y2="1135" stroke="#666666" stroke-width="1.4"/>
<line x1="640.80" y1="1340" x2="704.12" y2="1135" stroke="#666666" stroke-width="1.4"/>
<line x1="647.90" y1="1340" x2="711.22" y2="1135" stroke="#9c9c9c" stroke-width="4.20"/>
<line x1="646.50" y1="1340" x2="709.82" y2="1135" stroke="#666666" stroke-width="1.4"/>
<line x1="649.30" y1="1340" x2="712.62" y2="1135" stroke="#666666" stroke-width="1.4"/>
<line x1="656.40" y1="1340" x2="719.72" y2="1135" stroke="#9c9c9c" stroke-width="4.20"/>
<line x1="655.00" y1="1340" x2="718.32" y2="1135" stroke="#666666" stroke-width="1.4"/>
<line x1="657.80" y1="1340" x2="721.12" y2="1135" stroke="#666666" stroke-width="1.4"/>
<line x1="664.90" y1="1340" x2="728.22" y2="1135" stroke="#9c9c9c" stroke-width="4.20"/>
<line x1="663.50" y1="1340" x2="726.82" y2="1135" stroke="#666666" stroke-width="1.4"/>
<line x1="666.30" y1="1340" x2="729.62" y2="1135" stroke="#666666" stroke-width="1.4"/>
<line x1="673.40" y1="1340" x2="736.72" y2="1135" stroke="#9c9c9c" stroke-width="4.20"/>
<line x1="672.00" y1="1340" x2="735.32" y2="1135" stroke="#666666" stroke-width="1.4"/>
<line x1="674.80" y1="1340" x2="738.12" y2="1135" stroke="#666666" stroke-width="1.4"/>
<line x1="681.90" y1="1340" x2="745.22" y2="1135" stroke="#9c9c9c" stroke-width="4.20"/>
<line x1="680.50" y1="1340" x2="743.82" y2="1135" stroke="#666666" stroke-width="1.4"/>
<line x1="683.30" y1="1340" x2="746.62" y2="1135" stroke="#666666" stroke-width="1.4"/>
<line x1="690.40" y1="1340" x2="753.72" y2="1135" stroke="#9c9c9c" stroke-width="4.20"/>
<line x1="689.00" y1="1340" x2="752.32" y2="1135" stroke="#666666" stroke-width="1.4"/>
<line x1="691.80" y1="1340" x2="755.12" y2="1135" stroke="#666666" stroke-width="1.4"/>
<line x1="698.90" y1="1340" x2="762.22" y2="1135" stroke="#9c9c9c" stroke-width="4.20"/>
<line x1="697.50" y1="1340" x2="760.82" y2="1135" stroke="#666666" stroke-width="1.4"/>
<line x1="700.30" y1="1340" x2="763.62" y2="1135" stroke="#666666" stroke-width="1.4"/>
<line x1="707.40" y1="1340" x2="770.72" y2="1135" stroke="#9c9c9c" stroke-width="4.20"/>
<line x1="706.00" y1="1340" x2="769.32" y2="1135" stroke="#666666" stroke-width="1.4"/>
<line x1="708.80" y1="1340" x2="772.12" y2="1135" stroke="#666666" stroke-width="1.4"/>
<line x1="715.90" y1="1340" x2="779.22" y2="1135" stroke="#9c9c9c" stroke-width="4.20"/>
<line x1="714.50" y1="1340" x2="777.82" y2="1135" stroke="#666666" stroke-width="1.4"/>
<line x1="717.30" y1="1340" x2="780.62" y2="1135" stroke="#666666" stroke-width="1.4"/>
<line x1="724.40" y1="1340" x2="787.72" y2="1135" stroke="#9c9c9c" stroke-width="4.20"/>
<line x1="723.00" y1="1340" x2="786.32" y2="1135" stroke="#666666" stroke-width="1.4"/>
<line x1="725.80" y1="1340" x2="789.12" y2="1135" stroke="#666666" stroke-width="1.4"/>
<line x1="732.90" y1="1340" x2="796.22" y2="1135" stroke="#9c9c9c" stroke-width="4.20"/>
<line x1="731.50" y1="1340" x2="794.82" y2="1135" stroke="#666666" stroke-width="1.4"/>
<line x1="734.30" y1="1340" x2="797.62" y2="1135" stroke="#666666" stroke-width="1.4"/>
<line x1="741.40" y1="1340" x2="804.72" y2="1135" stroke="#9c9c9c" stroke-width="4.20"/>
<line x1="740.00" y1="1340" x2="803.32" y2="1135" stroke="#666666" stroke-width="1.4"/>
<line x1="742.80" y1="1340" x2="806.12" y2="1135" stroke="#666666" stroke-width="1.4"/>
<line x1="749.90" y1="1340" x2="813.22" y2="1135" stroke="#9c9c9c" stroke-width="4.20"/>
<line x1="748.50" y1="1340" x2="811.82" y2="1135" stroke="#666666" stroke-width="1.4"/>
<line x1="751.30" y1="1340" x2="814.62" y2="1135" stroke="#666666" stroke-width="1.4"/>
</g>
<polygon points="470.5,1213.6 781.0,1140.0 779.5,1145.0 472.5,1218.6" fill="#fff" stroke="#222" stroke-width="1.2" stroke-linejoin="round" />
<polygon points="470.5,1213.6 480.5,1216.6 443.0,1334.0 433.0,1335.0" fill="#fff"/>
<line x1="473.7" y1="1215.6" x2="436.2" y2="1334.5" stroke="#444" stroke-width="1.1" />
<line x1="477.3" y1="1217.6" x2="439.8" y2="1334.0" stroke="#3a3a3a" stroke-width="3.2" />
<polygon points="470.5,1213.6 781.0,1140.0 743.0,1260.5 433.0,1335.0" fill="none" stroke="#222" stroke-width="1.5" stroke-linejoin="round" />
<polygon points="595.8,1181.4 652.2,1167.3 660.0,1175.4 603.0,1192.2" fill="#fff" stroke="#222" stroke-width="1.3" stroke-linejoin="round" />
<polygon points="603.0,1192.2 660.0,1175.4 660.6,1184.4 603.0,1198.2" fill="#8c8c8c" stroke="#222" stroke-width="1.3" stroke-linejoin="round" />
<line x1="603.0" y1="1194.3" x2="660.2" y2="1178.6" stroke="#d0d0d0" stroke-width="0.8" />
<line x1="603.0" y1="1196.1" x2="660.4" y2="1181.2" stroke="#d0d0d0" stroke-width="0.8" />
<line x1="397.5" y1="1104.4" x2="676.5" y2="1045.6" stroke="#151515" stroke-width="1.8" stroke-dasharray="2.2 2.4"/>
<polygon points="390.0,1106.0 399.9,1099.8 401.6,1107.6" fill="#151515"/>
<polygon points="684.0,1044.0 674.1,1050.2 672.4,1042.4" fill="#151515"/>
<line x1="390.0" y1="1106.0" x2="375.0" y2="1142.0" stroke="#151515" stroke-width="1.5" stroke-dasharray="2.2 2.4"/>
<line x1="684.0" y1="1044.0" x2="667.0" y2="1070.0" stroke="#151515" stroke-width="1.5" stroke-dasharray="2.2 2.4"/>
<line x1="394.6" y1="1114.1" x2="461.9" y2="1202.9" stroke="#151515" stroke-width="1.8" stroke-dasharray="2.2 2.4"/>
<polygon points="390.0,1108.0 399.8,1114.4 393.5,1119.2" fill="#151515"/>
<polygon points="466.5,1209.0 456.7,1202.6 463.0,1197.8" fill="#151515"/>
<line x1="595.0" y1="1103.0" x2="595.0" y2="1125.0" stroke="#151515" stroke-width="1.8" stroke-dasharray="2.2 2.4"/>
<polygon points="595.0,1096.0 599.0,1106.0 591.0,1106.0" fill="#151515"/>
<polygon points="595.0,1132.0 591.0,1122.0 599.0,1122.0" fill="#151515"/>
<line x1="797.8" y1="1155.4" x2="765.9" y2="1264.4" stroke="#151515" stroke-width="1.8" stroke-dasharray="2.2 2.4"/>
<polygon points="800.0,1148.0 800.7,1159.7 793.1,1157.4" fill="#151515"/>
<polygon points="763.7,1271.8 763.0,1260.1 770.6,1262.4" fill="#151515"/>
<line x1="449.5" y1="1349.3" x2="754.2" y2="1278.4" stroke="#151515" stroke-width="1.8" stroke-dasharray="2.2 2.4"/>
<polygon points="442.0,1351.0 451.8,1344.6 453.6,1352.4" fill="#151515"/>
<polygon points="761.7,1276.7 751.9,1283.1 750.1,1275.3" fill="#151515"/>
<clipPath id="ct"><path d="M980,367.5 L1066,396 Q1087,401 1113,398 L1113,1144 Q1090,1146 1067,1141 L980,1113 Z"/></clipPath>
<g clip-path="url(#ct)">
<rect x="978" y="360" width="140" height="800" fill="#757575"/>
<rect x="979.3" y="360" width="3.5" height="800" fill="#9a9a9a"/>
<rect x="983.50" y="360" width="2.4" height="800" fill="#2a2a2a"/>
<rect x="987.70" y="360" width="2.0" height="800" fill="#c0c0c0"/>
<rect x="990.10" y="360" width="1.2" height="800" fill="#5a5a5a"/>
<rect x="992.50" y="360" width="2.4" height="800" fill="#2a2a2a"/>
<rect x="996.70" y="360" width="2.0" height="800" fill="#c0c0c0"/>
<rect x="999.10" y="360" width="1.2" height="800" fill="#5a5a5a"/>
<rect x="1001.50" y="360" width="2.4" height="800" fill="#2a2a2a"/>
<rect x="1005.70" y="360" width="2.0" height="800" fill="#c0c0c0"/>
<rect x="1008.10" y="360" width="1.2" height="800" fill="#5a5a5a"/>
<rect x="1010.50" y="360" width="2.4" height="800" fill="#2a2a2a"/>
<rect x="1014.70" y="360" width="2.0" height="800" fill="#c0c0c0"/>
<rect x="1017.10" y="360" width="1.2" height="800" fill="#5a5a5a"/>
<rect x="1019.50" y="360" width="2.4" height="800" fill="#2a2a2a"/>
<rect x="1023.70" y="360" width="2.0" height="800" fill="#c0c0c0"/>
<rect x="1026.10" y="360" width="1.2" height="800" fill="#5a5a5a"/>
<rect x="1028.50" y="360" width="2.4" height="800" fill="#2a2a2a"/>
<rect x="1032.70" y="360" width="2.0" height="800" fill="#c0c0c0"/>
<rect x="1035.10" y="360" width="1.2" height="800" fill="#5a5a5a"/>
<rect x="1037.50" y="360" width="2.4" height="800" fill="#2a2a2a"/>
<rect x="1041.70" y="360" width="2.0" height="800" fill="#c0c0c0"/>
<rect x="1044.10" y="360" width="1.2" height="800" fill="#5a5a5a"/>
<rect x="1046.50" y="360" width="2.4" height="800" fill="#2a2a2a"/>
<rect x="1050.70" y="360" width="2.0" height="800" fill="#c0c0c0"/>
<rect x="1053.10" y="360" width="1.2" height="800" fill="#5a5a5a"/>
<rect x="1055.50" y="360" width="2.4" height="800" fill="#2a2a2a"/>
<rect x="1059.70" y="360" width="2.0" height="800" fill="#c0c0c0"/>
<rect x="1062.10" y="360" width="1.2" height="800" fill="#5a5a5a"/>
<rect x="1064.50" y="360" width="2.4" height="800" fill="#2a2a2a"/>
<rect x="1068.70" y="360" width="2.0" height="800" fill="#c0c0c0"/>
<rect x="1071.10" y="360" width="1.2" height="800" fill="#5a5a5a"/>
<rect x="1073.50" y="360" width="2.4" height="800" fill="#2a2a2a"/>
<rect x="1077.70" y="360" width="2.0" height="800" fill="#c0c0c0"/>
<rect x="1080.10" y="360" width="1.2" height="800" fill="#5a5a5a"/>
<rect x="1082.50" y="360" width="2.4" height="800" fill="#2a2a2a"/>
<rect x="1086.70" y="360" width="2.0" height="800" fill="#c0c0c0"/>
<rect x="1089.10" y="360" width="1.2" height="800" fill="#5a5a5a"/>
<rect x="1091.50" y="360" width="2.4" height="800" fill="#2a2a2a"/>
<rect x="1095.70" y="360" width="2.0" height="800" fill="#c0c0c0"/>
<rect x="1098.10" y="360" width="1.2" height="800" fill="#5a5a5a"/>
<rect x="1104" y="360" width="10" height="800" fill="#a8a8a8"/>
<rect x="1106.5" y="360" width="1.6" height="800" fill="#444"/>
<rect x="1111.5" y="360" width="1.4" height="800" fill="#666"/>
</g>
<line x1="980.0" y1="363.0" x2="980.0" y2="1118.0" stroke="#555" stroke-width="1.6" />
<line x1="1113.5" y1="398.0" x2="1113.5" y2="1144.0" stroke="#333" stroke-width="1.6" />
<path d="M980,362.7 L1130,334.5 Q1137,333 1143,336 L1240,370 L1240,372 L1110,393.6 Q1087,397 1066,391 Z" fill="#fff" stroke="#333" stroke-width="1.5" stroke-linejoin="round"/>
<path d="M980,362.7 L1066,391 Q1087,397 1110,393.6 L1240,372 L1240,377 L1110,400 Q1087,404 1066,398 L980,367.5 Z" fill="#fff" stroke="#333" stroke-width="1.4"/>
<line x1="1160.5" y1="392.0" x2="1160.5" y2="538.0" stroke="#555" stroke-width="1.5" />
<line x1="1225.0" y1="379.0" x2="1225.0" y2="1124.0" stroke="#444" stroke-width="2.2" />
<polygon points="1113.0,545.0 1160.5,538.0 1223.0,560.0 1113.0,579.0" fill="#fff" stroke="#333" stroke-width="1.5" stroke-linejoin="round" />
<polygon points="1113.0,579.0 1223.0,560.0 1223.0,568.0 1113.0,587.0" fill="#fff" stroke="#333" stroke-width="1.4" stroke-linejoin="round" />
<polygon points="1113.0,731.0 1160.5,722.0 1223.0,744.0 1113.0,764.0" fill="#fff" stroke="#333" stroke-width="1.5" stroke-linejoin="round" />
<polygon points="1113.0,764.0 1223.0,744.0 1223.0,753.0 1113.0,772.0" fill="#fff" stroke="#333" stroke-width="1.4" stroke-linejoin="round" />
<polygon points="1114.0,916.0 1160.5,908.5 1223.5,929.5 1114.0,947.5" fill="#fff" stroke="#333" stroke-width="1.5" stroke-linejoin="round" />
<polygon points="1114.0,947.5 1223.5,929.5 1223.5,938.5 1114.0,956.5" fill="#fff" stroke="#333" stroke-width="1.4" stroke-linejoin="round" />
<line x1="1160.5" y1="579.0" x2="1160.5" y2="722.0" stroke="#555" stroke-width="1.5" />
<line x1="1160.5" y1="764.0" x2="1160.5" y2="908.5" stroke="#555" stroke-width="1.5" />
<line x1="1160.5" y1="947.5" x2="1160.5" y2="1094.5" stroke="#555" stroke-width="1.5" />
<polygon points="1114.0,1104.0 1160.4,1094.5 1233.0,1124.0 1114.0,1142.0" fill="#fff" stroke="#333" stroke-width="1.4" stroke-linejoin="round" />
<path d="M1113.5,1142 L1233,1122.5 L1236,1125 L1096,1151.5 Q1080,1150 1067,1146 L980,1118 L980,1113 L1067,1141 Q1090,1146 1113.5,1142 Z" fill="#fff" stroke="#333" stroke-width="1.4"/>
<path d="M1228,379 L1360,418 L1360,1162 L1355,1162 L1228,1121" fill="none" stroke="#333" stroke-width="1.6"/>
<line x1="1228.0" y1="386.0" x2="1352.0" y2="423.5" stroke="#444" stroke-width="1.4" />
<line x1="1352.0" y1="423.5" x2="1352.0" y2="1159.0" stroke="#444" stroke-width="1.5" />
<rect x="1357" y="716" width="6" height="77" fill="#fff"/>
<path d="M1345.8,720 L1369,715.5 Q1370,711.5 1372,713 L1372,786 Q1372,793 1364,793.5 L1352.7,795.3 L1345.8,795.3 Z" fill="none" stroke="#3a3a3a" stroke-width="1.7" stroke-linejoin="round"/>
<rect x="1345.5" y="727" width="4.5" height="4" fill="#222"/>
<rect x="1345.5" y="786.5" width="4.5" height="4" fill="#222"/>
<g transform="translate(1204,382)"><path d="M3,12 L10,3 L18,9 L11,19 Z" fill="#1c1c1c" stroke="#1c1c1c" stroke-width="4" stroke-linejoin="round"/><line x1="12" y1="11" x2="27" y2="22" stroke="#1c1c1c" stroke-width="8"/><path d="M25,15 L32,18 L32,36 L27,34 Z" fill="#1c1c1c" stroke="#1c1c1c" stroke-width="4" stroke-linejoin="round"/><line x1="13" y1="12" x2="24" y2="19" stroke="#8a8a8a" stroke-width="1.3"/></g>
<g transform="translate(1204,684)"><path d="M3,12 L10,3 L18,9 L11,19 Z" fill="#1c1c1c" stroke="#1c1c1c" stroke-width="4" stroke-linejoin="round"/><line x1="12" y1="11" x2="27" y2="22" stroke="#1c1c1c" stroke-width="8"/><path d="M25,15 L32,18 L32,36 L27,34 Z" fill="#1c1c1c" stroke="#1c1c1c" stroke-width="4" stroke-linejoin="round"/><line x1="13" y1="12" x2="24" y2="19" stroke="#8a8a8a" stroke-width="1.3"/></g>
<g transform="translate(1204,774)"><path d="M3,12 L10,3 L18,9 L11,19 Z" fill="#1c1c1c" stroke="#1c1c1c" stroke-width="4" stroke-linejoin="round"/><line x1="12" y1="11" x2="27" y2="22" stroke="#1c1c1c" stroke-width="8"/><path d="M25,15 L32,18 L32,36 L27,34 Z" fill="#1c1c1c" stroke="#1c1c1c" stroke-width="4" stroke-linejoin="round"/><line x1="13" y1="12" x2="24" y2="19" stroke="#8a8a8a" stroke-width="1.3"/></g>
<g transform="translate(1204,1072)"><path d="M3,12 L10,3 L18,9 L11,19 Z" fill="#1c1c1c" stroke="#1c1c1c" stroke-width="4" stroke-linejoin="round"/><line x1="12" y1="11" x2="27" y2="22" stroke="#1c1c1c" stroke-width="8"/><path d="M25,15 L32,18 L32,36 L27,34 Z" fill="#1c1c1c" stroke="#1c1c1c" stroke-width="4" stroke-linejoin="round"/><line x1="13" y1="12" x2="24" y2="19" stroke="#8a8a8a" stroke-width="1.3"/></g>
<line x1="958.2" y1="351.8" x2="958.0" y2="1108.7" stroke="#111" stroke-width="2.2" stroke-dasharray="4 3.4"/>
<polygon points="958.2,342.0 964.7,356.0 951.7,356.0" fill="#111"/>
<polygon points="958.0,1118.5 951.5,1104.5 964.5,1104.5" fill="#111"/>
<line x1="968.4" y1="339.6" x2="1119.4" y2="309.0" stroke="#111" stroke-width="2.2" stroke-dasharray="4 3.4"/>
<polygon points="958.8,341.6 971.2,332.4 973.8,345.2" fill="#111"/>
<polygon points="1129.0,307.0 1116.6,316.2 1114.0,303.4" fill="#111"/>
<line x1="1140.3" y1="310.2" x2="1240.4" y2="345.1" stroke="#111" stroke-width="2.2" stroke-dasharray="4 3.4"/>
<polygon points="1131.0,307.0 1146.4,305.5 1142.1,317.7" fill="#111"/>
<polygon points="1249.7,348.3 1234.3,349.8 1238.6,337.6" fill="#111"/>
<text x="453" y="706.7" font-family='"Liberation Sans", sans-serif' font-size="23" fill="#151515" text-anchor="start">745</text>
<text x="427.5" y="783" font-family='"Liberation Sans", sans-serif' font-size="23" fill="#151515" text-anchor="start">300</text>
<text x="530" y="767" font-family='"Liberation Sans", sans-serif' font-size="23" fill="#151515" text-anchor="start">146</text>
<text x="787" y="900" font-family='"Liberation Sans", sans-serif' font-size="23" fill="#151515" text-anchor="start">235</text>
<text x="581" y="1015" font-family='"Liberation Sans", sans-serif' font-size="23" fill="#151515" text-anchor="start">810</text>
<text x="494" y="1066" font-family='"Liberation Sans", sans-serif' font-size="23" fill="#151515" text-anchor="start">745</text>
<text x="427.5" y="1157" font-family='"Liberation Sans", sans-serif' font-size="23" fill="#151515" text-anchor="start">300</text>
<text x="607.7" y="1117.5" font-family='"Liberation Sans", sans-serif' font-size="23" fill="#151515" text-anchor="start">106</text>
<text x="787" y="1220.6" font-family='"Liberation Sans", sans-serif' font-size="23" fill="#151515" text-anchor="start">235</text>
<text x="598" y="1346.7" font-family='"Liberation Sans", sans-serif' font-size="23" fill="#151515" text-anchor="start">810</text>
<text x="1004" y="304.8" font-family='"Liberation Sans", sans-serif' font-size="24" fill="#151515" text-anchor="start" textLength="45" lengthAdjust="spacingAndGlyphs">35,5</text>
<text x="1219.5" y="318" font-family='"Liberation Sans", sans-serif' font-size="24" fill="#151515" text-anchor="start" textLength="45" lengthAdjust="spacingAndGlyphs">31,5</text>
<text x="889.5" y="688.4" font-family='"Liberation Serif", serif' font-size="28" fill="#151515" text-anchor="start" textLength="43" lengthAdjust="spacingAndGlyphs">139</text>
</svg></body></html>
